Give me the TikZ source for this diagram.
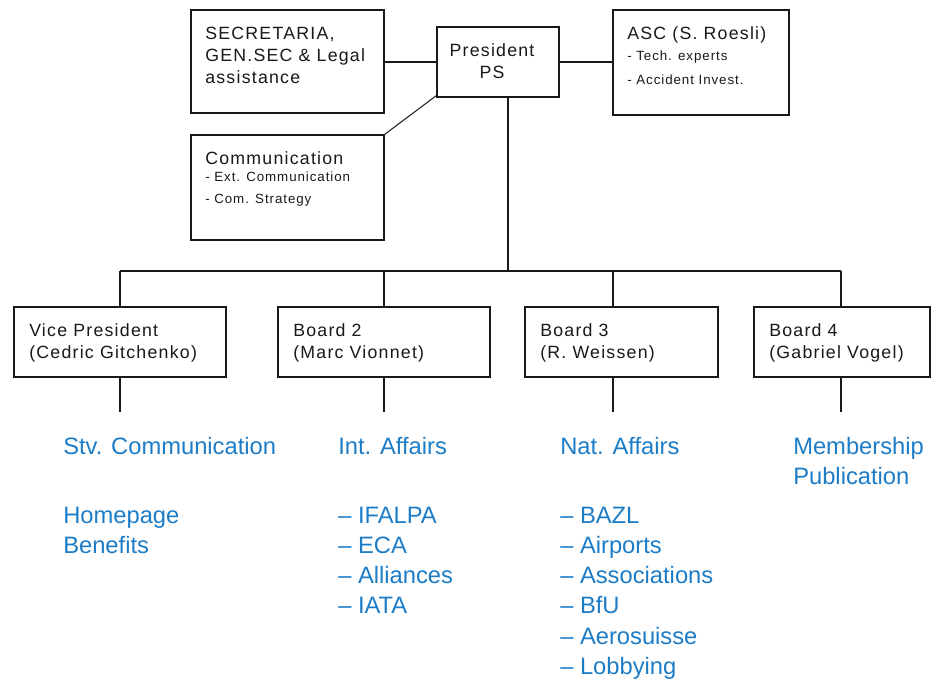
\documentclass[tikz,border=0pt]{standalone}
\usepackage{fontspec}
\setmainfont{Liberation Sans}
\newfontfamily\boxfont[LetterSpace=7]{Liberation Sans}
\usetikzlibrary{fit,shadows}
\definecolor{lineblue}{RGB}{28,124,198}
\definecolor{ink}{RGB}{25,25,25}
\tikzset{
  box/.style={draw=ink, line width=0.8pt, fill=white, inner sep=0pt,
    drop shadow={shadow xshift=0.7pt, shadow yshift=-0.7pt, fill=ink, opacity=1}},
  conn/.style={draw=ink, line width=0.8pt},
  bt/.style={anchor=base west, inner sep=0pt, font=\boxfont\fontsize{13.3}{15}\selectfont, text=ink},
  btc/.style={anchor=base, inner sep=0pt, font=\boxfont\fontsize{13.3}{15}\selectfont, text=ink},
  st/.style={anchor=base west, inner sep=0pt, font=\boxfont\fontsize{10}{12}\selectfont, text=ink},
  bl/.style={anchor=base west, inner sep=0pt, font=\fontsize{17.8}{21}\selectfont, text=lineblue}
}
\begin{document}
\begin{tikzpicture}[x=0.75pt,y=-0.75pt]
\useasboundingbox (0,0) rectangle (939,680);
% top boxes
\node[box, fit={(191,10) (384,113)}] (sec) {};
\node[box, fit={(437,27) (559,97)}] (pres) {};
\node[box, fit={(613,10) (789,115)}] (asc) {};
\node[box, fit={(191,135) (384,240)}] (comm) {};
% level 2 boxes
\node[box, fit={(14,307) (226,377)}] (vp) {};
\node[box, fit={(278,307) (490,377)}] (b2) {};
\node[box, fit={(525,307) (718,377)}] (b3) {};
\node[box, fit={(754,307) (930,377)}] (b4) {};

% texts in boxes
\node[bt] (sec1) at (205,39.5) {SECRETARIA,};
\node[bt] (sec2) at (205,61.5) {GEN.SEC \& Legal};
\node[bt] (sec3) at (205,84) {assistance};
\node[btc] (pres1) at (492,56.5) {President};
\node[btc] (pres2) at (492,78.5) {PS};
\node[bt] (asc1) at (627,39.5) {ASC (S. Roesli)};
\node[st] (asc2) at (627,60.5) {- Tech. experts};
\node[st] (asc3) at (627,85) {- Accident Invest.};
\node[bt] (comm1) at (205,164.5) {Communication};
\node[st] (comm2) at (205,182) {- Ext. Communication};
\node[st] (comm3) at (205,204) {- Com. Strategy};
\node[bt] (vp1) at (29,336.5) {Vice President};
\node[bt] (vp2) at (29,358.5) {(Cedric Gitchenko)};
\node[bt] (b21) at (293,336.5) {Board 2};
\node[bt] (b22) at (293,358.5) {(Marc Vionnet)};
\node[bt] (b31) at (540,336.5) {Board 3};
\node[bt] (b32) at (540,358.5) {(R. Weissen)};
\node[bt] (b41) at (769,336.5) {Board 4};
\node[bt] (b42) at (769,358.5) {(Gabriel Vogel)};

% coordinates
\coordinate (pdown) at (508,97);
\coordinate (busL) at (120,271);
\coordinate (busR) at (841,271);
\coordinate (d1) at (120,271);
\coordinate (d2) at (384,271);
\coordinate (d3) at (613,271);
\coordinate (d4) at (841,271);
\coordinate (e1) at (120,412);
\coordinate (e2) at (384,412);
\coordinate (e3) at (613,412);
\coordinate (e4) at (841,412);

% connectors
\draw[conn] (pres.west) -- (pres.west -| sec.east);
\draw[conn] (pres.east) -- (pres.east -| asc.west);
\draw[conn] (comm.north east) -- ([yshift=1.5pt]pres.south west);
\draw[conn] (pdown) -- (pdown |- busL);
\draw[conn] (busL) -- (busR);
\draw[conn] (d1) -- (d1 |- vp.north);
\draw[conn] (d2) -- (d2 |- b2.north);
\draw[conn] (d3) -- (d3 |- b3.north);
\draw[conn] (d4) -- (d4 |- b4.north);
\draw[conn] (e1 |- vp.south) -- (e1);
\draw[conn] (e2 |- b2.south) -- (e2);
\draw[conn] (e3 |- b3.south) -- (e3);
\draw[conn] (e4 |- b4.south) -- (e4);

% blue lists
\node[bl] (c1a) at (63,455) {Stv. Communication};
\node[bl] (c1b) at (63,524) {Homepage};
\node[bl] (c1c) at (63,554) {Benefits};

\node[bl] (c2a) at (338,455) {Int. Affairs};
\node[bl] (c2b) at (338,524) {– IFALPA};
\node[bl] (c2c) at (338,554) {– ECA};
\node[bl] (c2d) at (338,584) {– Alliances};
\node[bl] (c2e) at (338,614) {– IATA};

\node[bl] (c3a) at (560,455) {Nat. Affairs};
\node[bl] (c3b) at (560,524) {– BAZL};
\node[bl] (c3c) at (560,554) {– Airports};
\node[bl] (c3d) at (560,584) {– Associations};
\node[bl] (c3e) at (560,614) {– BfU};
\node[bl] (c3f) at (560,644) {– Aerosuisse};
\node[bl] (c3g) at (560,674) {– Lobbying};

\node[bl] (c4a) at (793,455) {Membership};
\node[bl] (c4b) at (793,485) {Publication};
\end{tikzpicture}
\end{document}
